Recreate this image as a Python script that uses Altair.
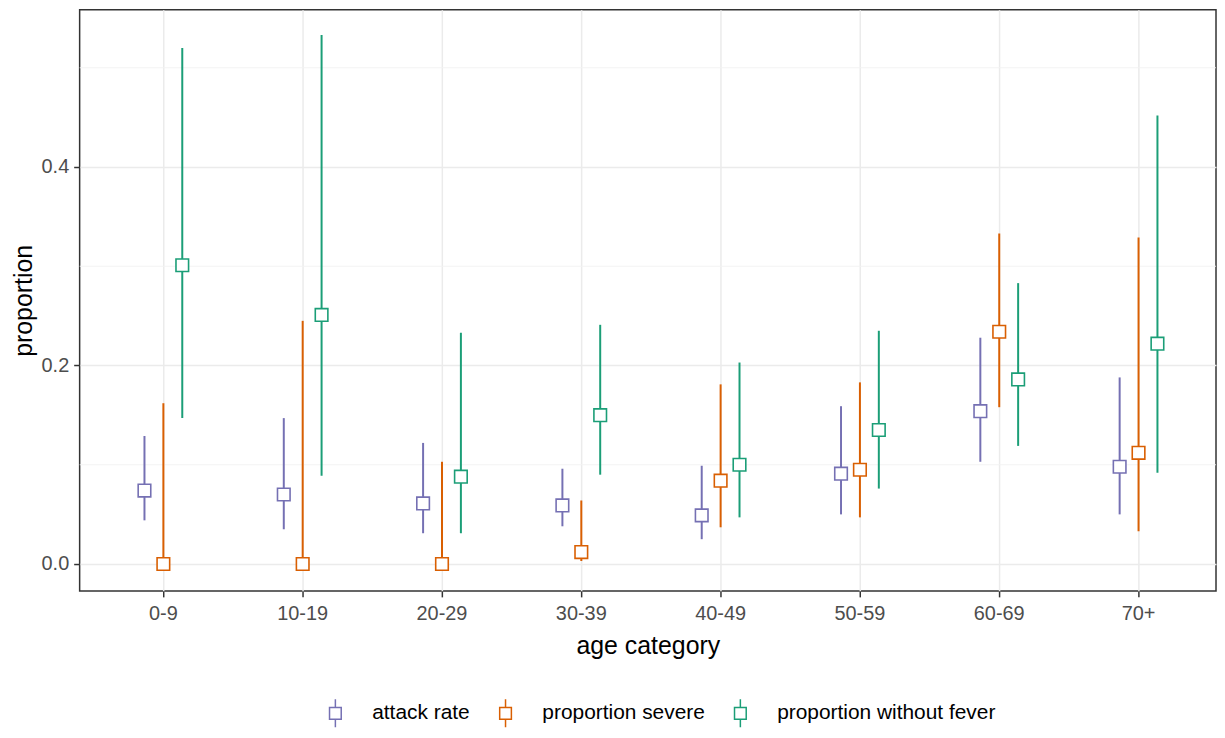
import altair as alt
import pandas as pd

age = ["0-9", "10-19", "20-29", "30-39", "40-49", "50-59", "60-69", "70+"]
series = ["attack rate", "proportion severe", "proportion without fever"]
colors = ["#7570B3", "#D95F02", "#1B9E77"]

attack_est = [0.074, 0.070, 0.061, 0.059, 0.049, 0.091, 0.154, 0.098]
attack_lo = [0.044, 0.035, 0.031, 0.038, 0.025, 0.050, 0.103, 0.050]
attack_hi = [0.129, 0.147, 0.122, 0.096, 0.099, 0.159, 0.228, 0.188]

severe_est = [0.000, 0.000, 0.000, 0.012, 0.084, 0.095, 0.234, 0.112]
severe_lo = [0.000, 0.000, 0.000, 0.003, 0.037, 0.047, 0.158, 0.033]
severe_hi = [0.162, 0.245, 0.103, 0.064, 0.181, 0.183, 0.333, 0.329]

nofever_est = [0.301, 0.251, 0.088, 0.150, 0.100, 0.135, 0.186, 0.222]
nofever_lo = [0.147, 0.089, 0.031, 0.090, 0.047, 0.076, 0.119, 0.092]
nofever_hi = [0.520, 0.533, 0.233, 0.241, 0.203, 0.235, 0.283, 0.452]

major_ticks = [0.0, 0.2, 0.4]
minor_grid = [0.1, 0.3, 0.5]

rows = []
for name, est, lo, hi in [
    (series[0], attack_est, attack_lo, attack_hi),
    (series[1], severe_est, severe_lo, severe_hi),
    (series[2], nofever_est, nofever_lo, nofever_hi),
]:
    for a, e, l, h in zip(age, est, lo, hi):
        rows.append({"age": a, "series": name, "est": e, "lo": l, "hi": h})
df = pd.DataFrame(rows)
minor_df = pd.DataFrame({"est": minor_grid})

FONT = "Liberation Sans"

xscale = alt.Scale(domain=age, paddingInner=0.593, paddingOuter=0.375, align=0.53)
yscale = alt.Scale(domain=[-0.0271, 0.5584], nice=False, zero=False)

x_axis = alt.Axis(
    title="age category", grid=True, bandPosition=0.5, labelAngle=0,
    labelFontSize=20, labelColor="#4d4d4d", labelPadding=7,
    titleFontSize=25, titleColor="black", titleFontWeight="normal", titlePadding=10,
    tickSize=6, tickColor="#333333", tickWidth=1.5, domain=False,
    gridColor="#ebebeb", gridWidth=1.5, labelFont=FONT, titleFont=FONT,
)
y_axis = alt.Axis(
    title="proportion", values=major_ticks, format=".1f", grid=True,
    labelFontSize=20, labelColor="#4d4d4d", labelPadding=5,
    titleFontSize=25, titleColor="black", titleFontWeight="normal", titlePadding=5,
    tickSize=6, tickColor="#333333", tickWidth=1.5, domain=False,
    gridColor="#ebebeb", gridWidth=1.5, labelFont=FONT, titleFont=FONT,
)

sym_path = "M0,-1L0,-0.42M-0.42,-0.42L0.42,-0.42L0.42,0.42L-0.42,0.42ZM0,0.42L0,1"
legend = alt.Legend(
    title=None, orient="none", legendX=242, legendY=692, direction="horizontal",
    symbolType=sym_path, symbolSize=784, symbolStrokeWidth=1.5,
    symbolFillColor="white", labelFontSize=21, labelColor="black",
    labelFont=FONT, labelOffset=22, labelLimit=500, columnPadding=20, padding=0,
)

stroke = alt.Stroke("series:N", scale=alt.Scale(domain=series, range=colors), legend=legend)
xoff = alt.XOffset("series:N", scale=alt.Scale(domain=series, paddingInner=0, paddingOuter=0))

minor = alt.Chart(minor_df).mark_rule(color="#f2f2f2", strokeWidth=0.9).encode(
    y=alt.Y("est:Q", scale=yscale, axis=y_axis)
)

bars = alt.Chart(df).mark_rule(strokeWidth=2).encode(
    x=alt.X("age:N", scale=xscale, axis=x_axis, sort=age),
    xOffset=xoff,
    y=alt.Y("lo:Q", scale=yscale, axis=y_axis),
    y2="hi:Q",
    stroke=stroke,
)

pts = alt.Chart(df).mark_point(shape="square", filled=True, fill="white", size=160, strokeWidth=1.6, opacity=1).encode(
    x=alt.X("age:N", scale=xscale, axis=x_axis, sort=age),
    xOffset=xoff,
    y=alt.Y("est:Q", scale=yscale, axis=y_axis),
    stroke=stroke,
)

chart = (
    alt.layer(minor, bars, pts)
    .properties(
        width=1142, height=584,
        padding={"left": 3, "top": 0, "right": 0, "bottom": 0},
    )
    .configure(font=FONT, background="white")
    .configure_view(stroke="#333333", strokeWidth=1.5)
)

chart.save("out.html", embed_options={"renderer": "svg", "actions": False})
